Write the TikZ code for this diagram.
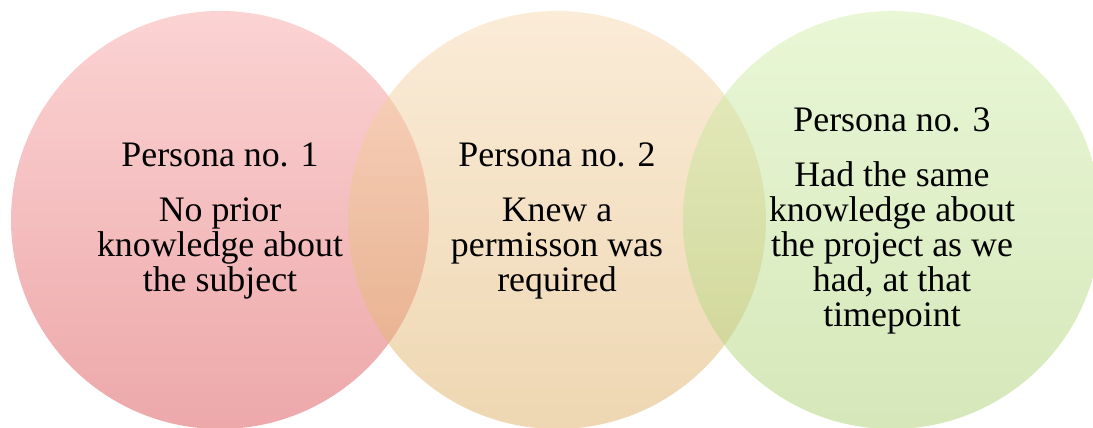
\documentclass[tikz,border=0pt]{standalone}
\usepackage{fontspec}
\setmainfont{Liberation Serif}
\newfontfamily\personafont{Liberation Serif}
\usepackage{xcolor}
\usepackage{tikz}
\usetikzlibrary{positioning}

\definecolor{pinkTop}{RGB}{249,167,167}
\definecolor{pinkBot}{RGB}{219,81,85}
\definecolor{sandTop}{RGB}{247,217,177}
\definecolor{sandBot}{RGB}{221,175,101}
\definecolor{limeTop}{RGB}{211,239,173}
\definecolor{limeBot}{RGB}{173,209,117}

\tikzset{
    persona/.style={align=center, text=black, inner sep=0pt,
        font=\personafont\fontsize{10.2}{10}\selectfont},
}

\begin{document}
\begin{tikzpicture}
        \useasboundingbox (0,0) rectangle (10.93,4.28);
        \clip (0,0) rectangle (10.93,4.28);
        \foreach \cx/\ctop/\cbot/\i in {2.20/pinkTop/pinkBot/1, 5.57/sandTop/sandBot/2, 8.92/limeTop/limeBot/3} {
            \shade[top color=\ctop, bottom color=\cbot, fill opacity=0.5] (\cx,2.08) circle (2.09);
            \coordinate (c\i) at (\cx,2.07);
        }
        \node[persona] (p1) at (c1) {Persona no. 1\\[5.7pt] No prior\\ knowledge about\\ the subject};
        \node[persona] (p2) at (c2) {Persona no. 2\\[5.7pt] Knew a\\ permisson was\\ required};
        \node[persona] (p3) at (c3) {Persona no. 3\\[5.7pt] Had the same\\ knowledge about\\ the project as we\\ had, at that\\ timepoint};
    \end{tikzpicture}
\end{document}
